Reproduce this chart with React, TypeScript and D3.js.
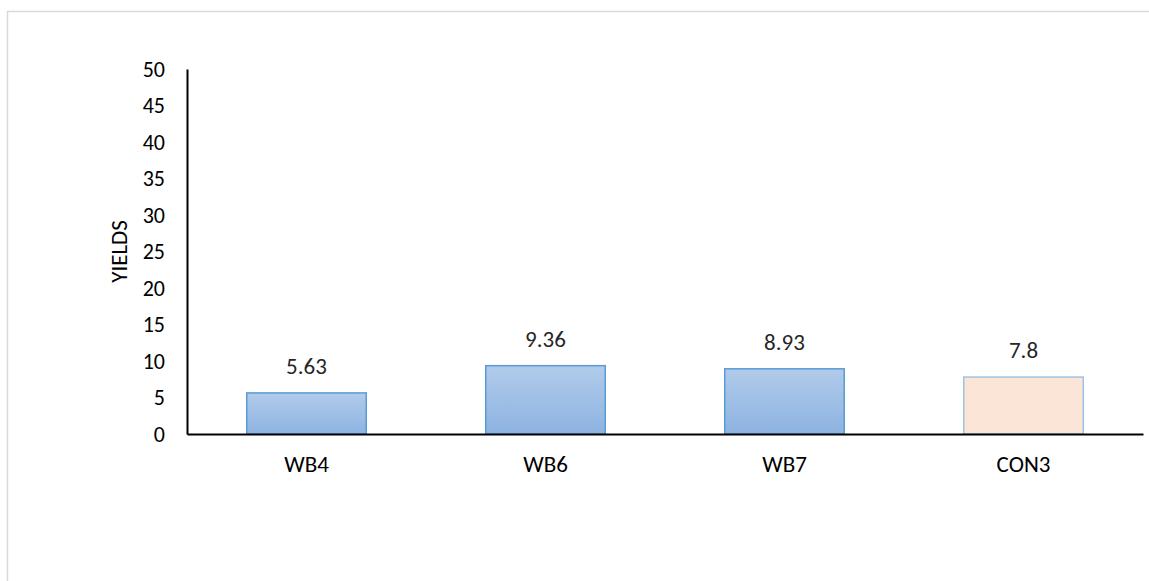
import React, { useEffect, useRef } from "react";
import * as d3 from "d3";

const categories = ["WB4", "WB6", "WB7", "CON3"];
const yields = [5.63, 9.36, 8.93, 7.8];
const valueLabels = ["5.63", "9.36", "8.93", "7.8"];
const yTicks = [0, 5, 10, 15, 20, 25, 30, 35, 40, 45, 50];

const W = 1149;
const H = 581;
const FONT = "Carlito, Calibri, 'Open Sans', 'Liberation Sans', sans-serif";

export default function App() {
  const ref = useRef<SVGSVGElement | null>(null);

  useEffect(() => {
    const svg = d3.select(ref.current);
    svg.selectAll("*").remove();

    const left = 187;
    const right = 1143;
    const top = 69;
    const bottom = 434;

    const x = d3.scaleBand<string>().domain(categories).range([left, right]).paddingInner(0.5).paddingOuter(0.25);
    const y = d3.scaleLinear().domain([0, 50]).range([bottom, top]);

    const defs = svg.append("defs");
    const grad = defs.append("linearGradient").attr("id", "blueFill").attr("x1", 0).attr("y1", 0).attr("x2", 0).attr("y2", 1);
    grad.append("stop").attr("offset", "0%").attr("stop-color", "#b1cbea");
    grad.append("stop").attr("offset", "100%").attr("stop-color", "#8db3e2");

    // chart frame
    svg.append("rect")
      .attr("x", 7.5).attr("y", 11.5)
      .attr("width", W + 20).attr("height", H + 20)
      .attr("fill", "white").attr("stroke", "#d9d9d9").attr("stroke-width", 1.5);

    // bars
    svg.append("g").selectAll("rect")
      .data(categories)
      .join("rect")
      .attr("x", (d) => x(d)!)
      .attr("y", (_, i) => y(yields[i]))
      .attr("width", x.bandwidth())
      .attr("height", (_, i) => bottom - y(yields[i]))
      .attr("fill", (d) => (d === "CON3" ? "#fbe5d6" : "url(#blueFill)"))
      .attr("stroke", (d) => (d === "CON3" ? "#9dc3e6" : "#5b9bd5"))
      .attr("stroke-width", 1.5);

    // value labels
    svg.append("g").selectAll("text")
      .data(categories)
      .join("text")
      .attr("x", (d) => x(d)! + x.bandwidth() / 2)
      .attr("y", (_, i) => y(yields[i]) - 19)
      .attr("text-anchor", "middle")
      .attr("font-family", FONT)
      .attr("font-size", 23)
      .attr("fill", "#262626")
      .text((_, i) => valueLabels[i]);

    // y axis
    const yAxis = svg.append("g")
      .attr("transform", `translate(${left},0)`)
      .call(d3.axisLeft(y).tickValues(yTicks).tickSize(0).tickPadding(22));
    yAxis.select(".domain").attr("stroke", "#000").attr("stroke-width", 2);
    yAxis.selectAll("text").attr("font-family", FONT).attr("font-size", 22).attr("fill", "#000");

    // x axis
    const xAxis = svg.append("g")
      .attr("transform", `translate(0,${bottom})`)
      .call(d3.axisBottom(x).tickSize(0).tickPadding(22));
    xAxis.select(".domain").attr("stroke", "#000").attr("stroke-width", 2);
    xAxis.selectAll("text").attr("font-family", FONT).attr("font-size", 23).attr("fill", "#000");

    // y axis title
    svg.append("text")
      .attr("transform", `translate(127,${(top + bottom) / 2}) rotate(-90)`)
      .attr("text-anchor", "middle")
      .attr("font-family", FONT)
      .attr("font-size", 23)
      .attr("fill", "#000")
      .text("YIELDS");
  }, []);

  return (
    <svg
      ref={ref}
      width={W}
      height={H}
      style={{ position: "absolute", left: 0, top: 0, background: "white" }}
    />
  );
}
